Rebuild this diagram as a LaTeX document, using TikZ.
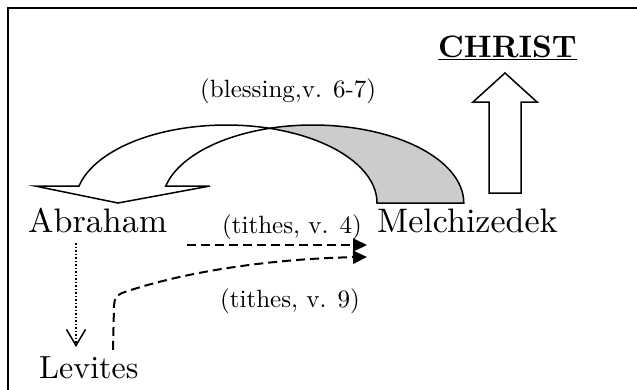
\documentclass[tikz,border=0pt]{standalone}
\usepackage{fontspec}
\setmainfont{lmroman10-regular.otf}[BoldFont=lmroman10-bold.otf]
\usetikzlibrary{arrows.meta}
\tikzset{
    word/.style={inner sep=0pt,anchor=base west,font=\fontsize{34}{40}\selectfont},
    note/.style={inner sep=0pt,anchor=base west,font=\fontsize{25}{30}\selectfont},
    tithe/.style={line width=2pt,dash pattern=on 9pt off 5pt,-{Triangle[length=14pt,width=13pt]}},
    descent/.style={line width=1.5pt,dash pattern=on 1.5pt off 2pt,-{Straight Barb[length=16pt,width=19pt]}},
    block/.style={line width=1.5pt,line join=miter}
}

\begin{document}
\begin{tikzpicture}[x=1pt,y=-1pt]
    \clip (0,0) rectangle (637,389);
    % Frame
    \draw[line width=2pt] (8,8) rectangle (660,420);

    % Names
    \node[word] (Abraham) at (28,232) {Abraham};
    \node[word] (Melchizedek) at (377,232) {Melchizedek};
    \node[word,font=\fontsize{32}{38}\selectfont] (Levites) at (39,378) {Levites};
    \node[word,font=\fontsize{31}{36}\selectfont\bfseries] (Christ) at (438,57) {\underline{CHRIST}};

    % Labels
    \node[note] (blessing) at (200,97) {(blessing,v. 6-7)};
    \node[note] (tithes4) at (222,233) {(tithes, v. 4)};
    \node[note] (tithes9) at (220,307) {(tithes, v. 9)};

    % Curved arrow, back part
    \filldraw[block,fill=black!20] (377,203)
        arc[start angle=0,end angle=73.3,x radius=151pt,y radius=78pt]
        arc[start angle=106.7,end angle=0,x radius=151pt,y radius=78pt] -- cycle;
    % Curved arrow, front part with head
    \filldraw[block,fill=white] (79,186)
        arc[start angle=167.4,end angle=73.3,x radius=151pt,y radius=78pt]
        arc[start angle=106.7,end angle=167.4,x radius=151pt,y radius=78pt]
        -- (210,186) -- (118,203) -- (35,186) -- cycle;

    % Arrow up to Christ
    \draw[block] (489,193) -- (489,102) -- (473,102) -- (505,73)
        -- (537,102) -- (521,102) -- (521,193) -- cycle;

    % Abraham to Levites
    \draw[descent] ([xshift=48pt,yshift=-11pt]Abraham.base west)
        -- ([xshift=37pt,yshift=9pt]Levites.north west);

    % Tithes
    \draw[tithe] ([xshift=20pt,yshift=-13pt]Abraham.base east)
        -- ([xshift=-10pt,yshift=-13pt]Melchizedek.base west);
    \draw[tithe] ([xshift=74pt,yshift=6pt]Levites.north west) -- (114,306)
        .. controls (115,297) .. (122,293)
        .. controls (200,266) and (300,258) .. ([xshift=-10pt,yshift=-25pt]Melchizedek.base west);
\end{tikzpicture}
\end{document}
